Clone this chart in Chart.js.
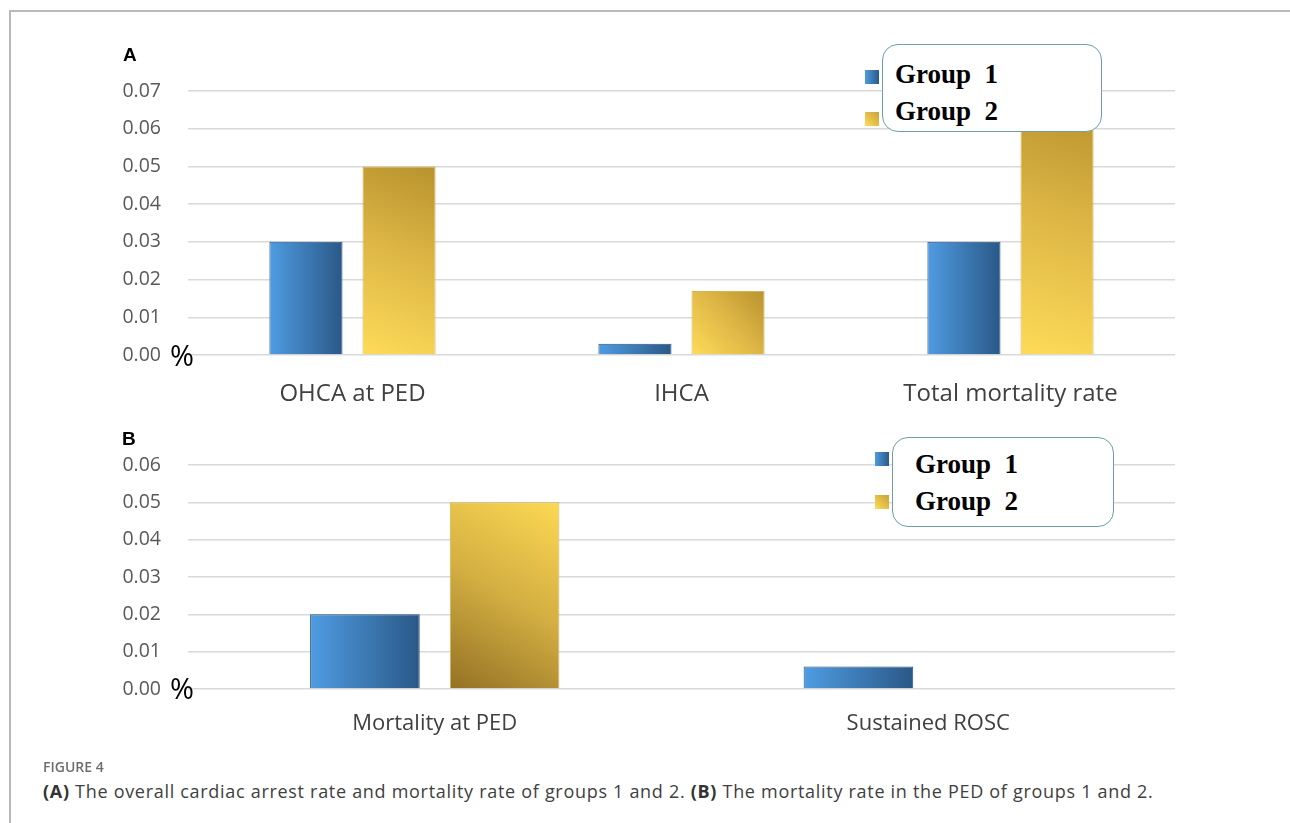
<!DOCTYPE html>
<html><head><meta charset="utf-8">
<script src="https://cdn.jsdelivr.net/npm/chart.js@4.4.1/dist/chart.umd.min.js"></script>
<style>
html,body{margin:0;padding:0;background:#fff;}
body{width:1290px;height:823px;position:relative;overflow:hidden;font-family:"Open Sans",sans-serif;}
#frame{position:absolute;left:9px;top:10px;width:1400px;height:900px;border-left:2px solid #b9b9b9;border-top:2px solid #b9b9b9;}
.cv{position:absolute;left:0;}
.panel{position:absolute;font-family:"Liberation Sans",Arial,sans-serif;font-weight:bold;font-size:19px;color:#000;}
.pct{position:absolute;font-family:"Open Sans",sans-serif;font-size:29px;color:#000;line-height:1;}
.legbox{position:absolute;border:1.5px solid #6f9ea4;border-radius:16px;background:#fff;box-sizing:border-box;}
.legtxt{position:absolute;font-family:"Liberation Serif","Times New Roman",serif;font-weight:bold;font-size:27px;color:#000;line-height:1;white-space:pre;}
.sq{position:absolute;width:14px;height:14px;}
.sq.b{background:linear-gradient(90deg,#4f9be0,#2b5a89);}
.sq.y{background:linear-gradient(45deg,#fedb58,#c9a138);}
#fig{position:absolute;left:43px;top:757px;font-size:14px;font-weight:600;color:#6e6e6e;}
#cap{position:absolute;left:43px;top:779px;font-size:18px;letter-spacing:0.7px;color:#404040;white-space:nowrap;}
#cap b{font-weight:700;color:#333;}
</style></head>
<body>
<div id="frame"></div>
<canvas id="cA" class="cv" width="1290" height="420" style="top:0;width:1290px;height:420px"></canvas>
<canvas id="cB" class="cv" width="1290" height="340" style="top:420px;width:1290px;height:340px"></canvas>

<div class="panel" style="left:123px;top:44px;">A</div>
<div class="panel" style="left:122px;top:428px;">B</div>
<div class="pct" style="left:170px;top:340px;">%</div>
<div class="pct" style="left:170px;top:673px;">%</div>

<div class="sq b" style="left:865px;top:70px;"></div>
<div class="sq y" style="left:865px;top:112px;"></div>
<div class="legbox" style="left:882px;top:44px;width:220px;height:88px;"></div>
<div class="legtxt" style="left:895px;top:61px;">Group  1</div>
<div class="legtxt" style="left:895px;top:98px;">Group  2</div>

<div class="sq b" style="left:875px;top:452px;"></div>
<div class="sq y" style="left:875px;top:495px;"></div>
<div class="legbox" style="left:892px;top:437px;width:222px;height:90px;"></div>
<div class="legtxt" style="left:915px;top:451px;">Group  1</div>
<div class="legtxt" style="left:915px;top:488px;">Group  2</div>

<div id="fig">FIGURE 4</div>
<div id="cap"><b>(A)</b> The overall cardiac arrest rate and mortality rate of groups 1 and 2. <b>(B)</b> The mortality rate in the PED of groups 1 and 2.</div>

<script>
// ---- data ----
const seriesNames = ["Group 1", "Group 2"];
const categoriesA = ["OHCA at PED", "IHCA", "Total mortality rate"];
const group1A = [0.03, 0.003, 0.03];
const group2A = [0.05, 0.017, 0.067];
const yTicksA = [0, 0.01, 0.02, 0.03, 0.04, 0.05, 0.06, 0.07];

const categoriesB = ["Mortality at PED", "Sustained ROSC"];
const group1B = [0.02, 0.006];
const group2B = [0.05, 0];
const yTicksB = [0, 0.01, 0.02, 0.03, 0.04, 0.05, 0.06];

const CAT = 0.566, BAR = 0.785;

function barBox(c){
  const ch = c.chart, xs = ch.scales && ch.scales.x, ys = ch.scales && ch.scales.y;
  if(!xs || !ys || c.dataIndex === undefined) return null;
  const n = ch.data.labels.length;
  const catW = (xs.right - xs.left) / n;
  const size = catW * CAT, chunk = size / 2, w = chunk * BAR;
  const center = xs.getPixelForValue(c.dataIndex);
  const mid = center - size/2 + chunk*c.datasetIndex + chunk/2;
  const v = c.raw;
  const b = {x0: mid - w/2, x1: mid + w/2, top: ys.getPixelForValue(v), bot: ys.getPixelForValue(0)};
  for(const k in b){ if(!isFinite(b[k])) return null; }
  return b;
}
function fillFor(mode){
  return function(c){
    const b = barBox(c);
    if(!b) return c.datasetIndex === 0 ? '#3f7fc0' : '#e3bb45';
    const ctx = c.chart.ctx;
    let g;
    if(c.datasetIndex === 0){
      g = ctx.createLinearGradient(b.x0, 0, b.x1, 0);
      g.addColorStop(0, '#4f9ce2'); g.addColorStop(1, '#2a5887');
    } else if(mode === 'A'){
      g = ctx.createLinearGradient(b.x1, b.top, b.x0, b.bot);
      g.addColorStop(0, '#b8922d'); g.addColorStop(0.45, '#dcb545'); g.addColorStop(1, '#fedb58');
    } else {
      g = ctx.createLinearGradient(b.x0, b.bot, b.x1, b.top);
      g.addColorStop(0, '#937124'); g.addColorStop(0.5, '#d3ae42'); g.addColorStop(1, '#fcd953');
    }
    return g;
  };
}

function makeChart(id, labels, d1, d2, ticks, mode, padTop, padRight, axisH, labelPad, labelSize){
  const maxV = ticks[ticks.length-1];
  return new Chart(document.getElementById(id), {
    type: 'bar',
    data: {
      labels: labels,
      datasets: [
        {label: seriesNames[0], data: d1, backgroundColor: fillFor(mode),
         borderColor: '#27527f', borderWidth: c => (c.raw === 0 ? 0 : 1), borderSkipped: 'bottom'},
        {label: seriesNames[1], data: d2, backgroundColor: fillFor(mode),
         borderColor: 'rgba(205,165,55,0.85)', borderWidth: c => (c.raw === 0 ? 0 : 1), borderSkipped: 'bottom'}
      ]
    },
    options: {
      responsive: false, animation: false,
      layout: {padding: {left: 0, right: padRight, top: padTop, bottom: 0}},
      categoryPercentage: CAT, barPercentage: BAR,
      plugins: {legend: {display: false}, tooltip: {enabled: false}},
      scales: {
        x: {
          grid: {display: false}, border: {display: false},
          ticks: {font: {family: 'Open Sans', size: labelSize}, color: '#404040', padding: labelPad, maxRotation: 0},
          afterFit: s => { s.height = axisH; }
        },
        y: {
          min: 0, max: maxV,
          afterBuildTicks: s => { s.ticks = ticks.map(v => ({value: v})); },
          ticks: {callback: v => Number(v).toFixed(2), font: {family: 'Open Sans', size: 19.5}, color: '#595959', padding: 27},
          grid: {color: '#d9d9d9', lineWidth: 1.5, drawTicks: false},
          border: {display: false},
          afterFit: s => { s.width = 188; }
        }
      }
    }
  });
}

makeChart('cA', categoriesA, group1A, group2A, yTicksA, 'A', 91, 115, 65, 17, 24);
makeChart('cB', categoriesB, group1B, group2B, yTicksB, 'B', 45, 115, 71, 14, 22);
</script>
</body></html>
